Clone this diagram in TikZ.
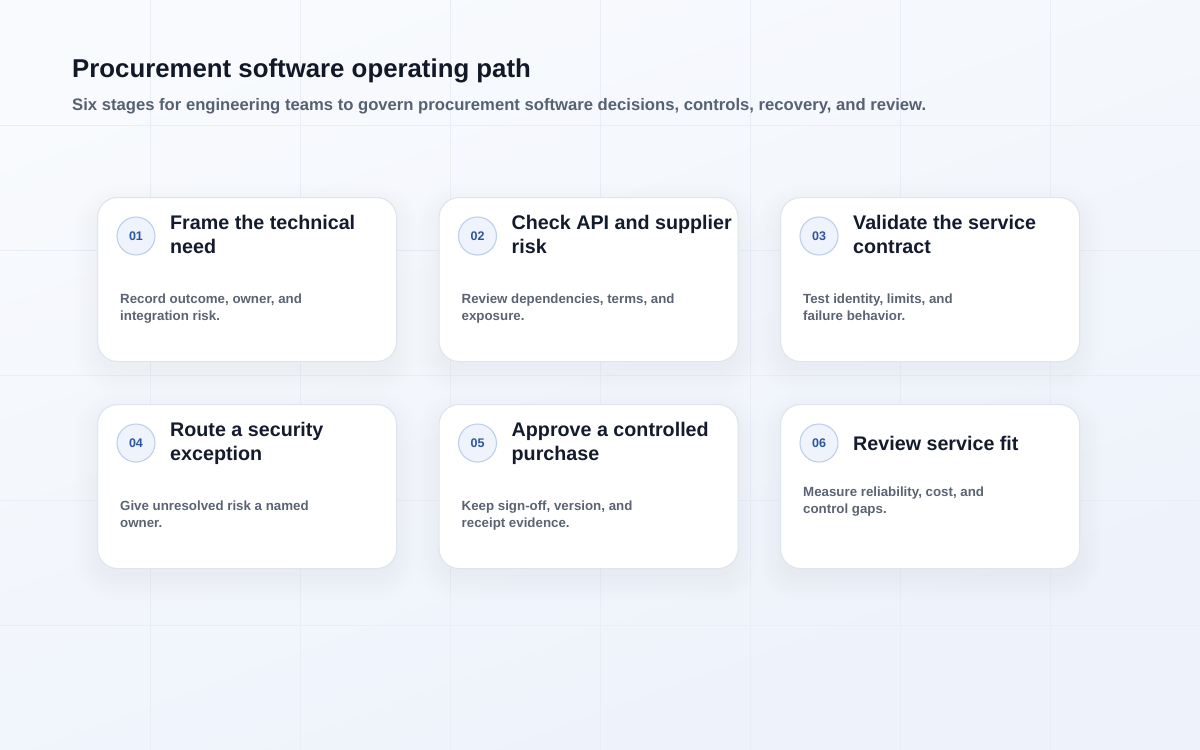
\documentclass[tikz,border=0pt]{standalone}
\usepackage{fontspec}
\setmainfont{Liberation Sans}
\usetikzlibrary{calc}
\definecolor{bgtop}{HTML}{F8FAFD}
\definecolor{bgbot}{HTML}{EDF2FB}
\definecolor{gridc}{HTML}{E9EDF5}
\definecolor{cardedge}{HTML}{DFE5EE}
\definecolor{shadowc}{HTML}{8797B6}
\definecolor{numfill}{HTML}{EEF3FC}
\definecolor{numedge}{HTML}{BDCFEC}
\definecolor{numtext}{HTML}{2D55A0}
\definecolor{ttltext}{HTML}{141B2D}
\definecolor{desctext}{HTML}{5B6474}
\definecolor{headtext}{HTML}{111827}
\definecolor{subtext}{HTML}{566173}
\newcommand\fsz[2]{\fontsize{#1}{#2}\selectfont}
\tikzset{
  gridline/.style={draw=gridc, line width=0.8pt},
  cardbox/.style={draw=cardedge, line width=1.1pt, fill=white, rounded corners=20pt,
    minimum width=299pt, minimum height=164pt, anchor=north west, inner sep=0pt},
  numc/.style={circle, draw=numedge, line width=1.1pt, fill=numfill, minimum size=38pt,
    inner sep=0pt, text=numtext, font=\fsz{12.5}{14}\bfseries},
  ttl/.style={anchor=base west, inner sep=0pt, text=ttltext, font=\fsz{19.7}{24}\bfseries},
  desc/.style={anchor=base west, inner sep=0pt, text=desctext, font=\fsz{13.3}{17}\bfseries},
}
\begin{document}
\begin{tikzpicture}[x=1pt,y=-1pt]
\useasboundingbox (0,0) rectangle (1200,750);
\shade[top color=bgtop, bottom color=bgbot, shading angle=20] (0,0) rectangle (1200,750);
\foreach \gx in {150,300,...,1050} \draw[gridline] (\gx,0) -- (\gx,750);
\foreach \gy in {125,250,...,625} \draw[gridline] (0,\gy) -- (1200,\gy);

\node[anchor=base west, inner sep=0pt, text=headtext, font=\fsz{25.8}{30}\bfseries] (head) at (72,77) {Procurement software operating path};
\node[anchor=base west, inner sep=0pt, text=subtext, font=\fsz{16.65}{20}\bfseries] (sub) at (72,110) {Six stages for engineering teams to govern procurement software decisions, controls, recovery, and review.};

% shadows and cards
\foreach \i/\cx/\cy in {1/97/197, 2/438.5/197, 3/780/197, 4/97/404, 5/438.5/404, 6/780/404}{
  \foreach \e in {1,4,...,25}{
    \fill[shadowc, opacity=0.009, rounded corners=20pt+\e pt]
      (\cx-\e+2,\cy-\e+12) rectangle (\cx+299+\e-2,\cy+164+\e+8);
  }
  \node[cardbox] (c\i) at (\cx,\cy) {};
  \node[numc] (n\i) at (\cx+39,\cy+39) {0\i};
}

% card 1
\node[ttl] (t1a) at (170,229.5) {Frame the technical};
\node[ttl] (t1b) at (170,253.5) {need};
\node[desc] (d1a) at (120,303) {Record outcome, owner, and};
\node[desc] (d1b) at (120,320) {integration risk.};
% card 2
\node[ttl] (t2a) at (511.5,229.5) {Check API and supplier};
\node[ttl] (t2b) at (511.5,253.5) {risk};
\node[desc] (d2a) at (461.5,303) {Review dependencies, terms, and};
\node[desc] (d2b) at (461.5,320) {exposure.};
% card 3
\node[ttl] (t3a) at (853,229.5) {Validate the service};
\node[ttl] (t3b) at (853,253.5) {contract};
\node[desc] (d3a) at (803,303) {Test identity, limits, and};
\node[desc] (d3b) at (803,320) {failure behavior.};
% card 4
\node[ttl] (t4a) at (170,436.5) {Route a security};
\node[ttl] (t4b) at (170,460.5) {exception};
\node[desc] (d4a) at (120,510) {Give unresolved risk a named};
\node[desc] (d4b) at (120,527) {owner.};
% card 5
\node[ttl] (t5a) at (511.5,436.5) {Approve a controlled};
\node[ttl] (t5b) at (511.5,460.5) {purchase};
\node[desc] (d5a) at (461.5,510) {Keep sign-off, version, and};
\node[desc] (d5b) at (461.5,527) {receipt evidence.};
% card 6
\node[ttl] (t6a) at (853,450) {Review service fit};
\node[desc] (d6a) at (803,496) {Measure reliability, cost, and};
\node[desc] (d6b) at (803,513) {control gaps.};
\end{tikzpicture}
\end{document}
